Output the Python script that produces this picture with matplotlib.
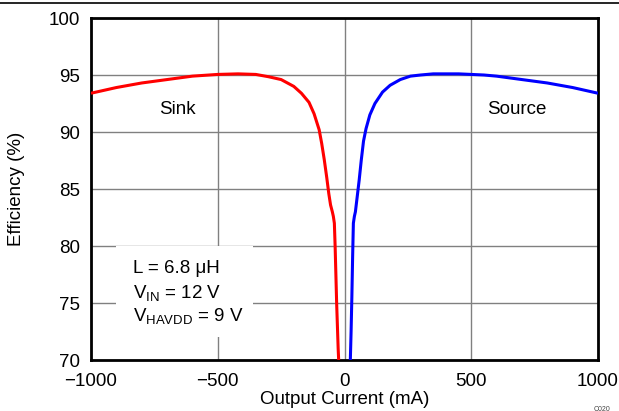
import matplotlib
matplotlib.use("Agg")
import matplotlib.pyplot as plt
from matplotlib.lines import Line2D
from matplotlib.patches import Rectangle

plt.rcParams["font.family"] = ["Liberation Sans", "DejaVu Sans"]
plt.rcParams["mathtext.fontset"] = "custom"
plt.rcParams["mathtext.rm"] = "Liberation Sans"
plt.rcParams["mathtext.it"] = "Liberation Sans:italic"

sink_current = [-1000, -900, -800, -700, -600, -500, -420, -350, -300, -250, -200, -170, -140, -120, -100, -90, -80, -70, -62, -55, -48, -44, -40, -37, -34, -31, -28, -25, -23]
sink_eff = [93.4, 93.9, 94.3, 94.6, 94.9, 95.05, 95.1, 95.05, 94.85, 94.6, 94.0, 93.4, 92.6, 91.6, 90.2, 89.0, 87.6, 86.0, 84.6, 83.6, 83.0, 82.6, 82.0, 80.0, 77.5, 75.0, 73.0, 71.0, 70.0]
source_current = [23, 26, 29, 32, 35, 39, 43, 50, 58, 66, 75, 85, 100, 120, 150, 180, 220, 260, 300, 350, 400, 450, 500, 550, 600, 700, 800, 900, 1000]
source_eff = [70.0, 72.5, 75.5, 79.0, 82.0, 82.6, 83.0, 84.3, 85.8, 87.5, 89.2, 90.3, 91.5, 92.5, 93.5, 94.1, 94.6, 94.9, 95.0, 95.1, 95.1, 95.1, 95.05, 95.0, 94.9, 94.6, 94.3, 93.9, 93.4]

xticks = [-1000, -500, 0, 500, 1000]
yticks = [70, 75, 80, 85, 90, 95, 100]

fs = 13.5
fig = plt.figure(figsize=(6.19, 4.11), dpi=100)
ax = fig.add_axes([91/619, 1 - 360/411, (598 - 91)/619, (360 - 18)/411])
ax.set_xlim(-1000, 1000)
ax.set_ylim(70, 100)
ax.set_xticks(xticks)
ax.set_xticklabels(["\u22121000", "\u2212500", "0", "500", "1000"])
ax.set_yticks(yticks)
ax.grid(True, color="#808080", linewidth=1.0)
ax.set_axisbelow(True)
ax.tick_params(length=0, labelsize=fs)
ax.tick_params(axis="y", pad=8)
ax.tick_params(axis="x", pad=9)
for s in ax.spines.values():
    s.set_linewidth(2)
    s.set_color("black")

ax.plot(sink_current, sink_eff, color="#ff0000", linewidth=2.2, solid_capstyle="butt", zorder=3)
ax.plot(source_current, source_eff, color="#0000ff", linewidth=2.2, solid_capstyle="butt", zorder=3)

ax.set_xlabel("Output Current (mA)", fontsize=fs, labelpad=1)
ax.set_ylabel("Efficiency (%)", fontsize=fs, labelpad=17)

ax.text(-660, 91.95, "Sink", fontsize=fs, ha="center", va="center")
ax.text(680, 91.95, "Source", fontsize=fs, ha="center", va="center")

ax.add_patch(Rectangle((-900, 72.0), 540, 8.0, facecolor="white", edgecolor="none", zorder=2))
ax.text(-835, 78.0, "L = 6.8 \u03bcH", fontsize=fs, va="center", zorder=4)
ax.text(-835, 75.9, "V$_{\\mathregular{IN}}$ = 12 V", fontsize=fs, va="center", zorder=4)
ax.text(-835, 73.9, "V$_{\\mathregular{HAVDD}}$ = 9 V", fontsize=fs, va="center", zorder=4)

fig.add_artist(Line2D([0, 1], [1 - 3/411, 1 - 3/411], color="black", linewidth=1.2))
fig.text(594/619, 1 - 409/411, "C020", fontsize=5, color="#444444", va="center")

fig.savefig("out.png", dpi=100)
